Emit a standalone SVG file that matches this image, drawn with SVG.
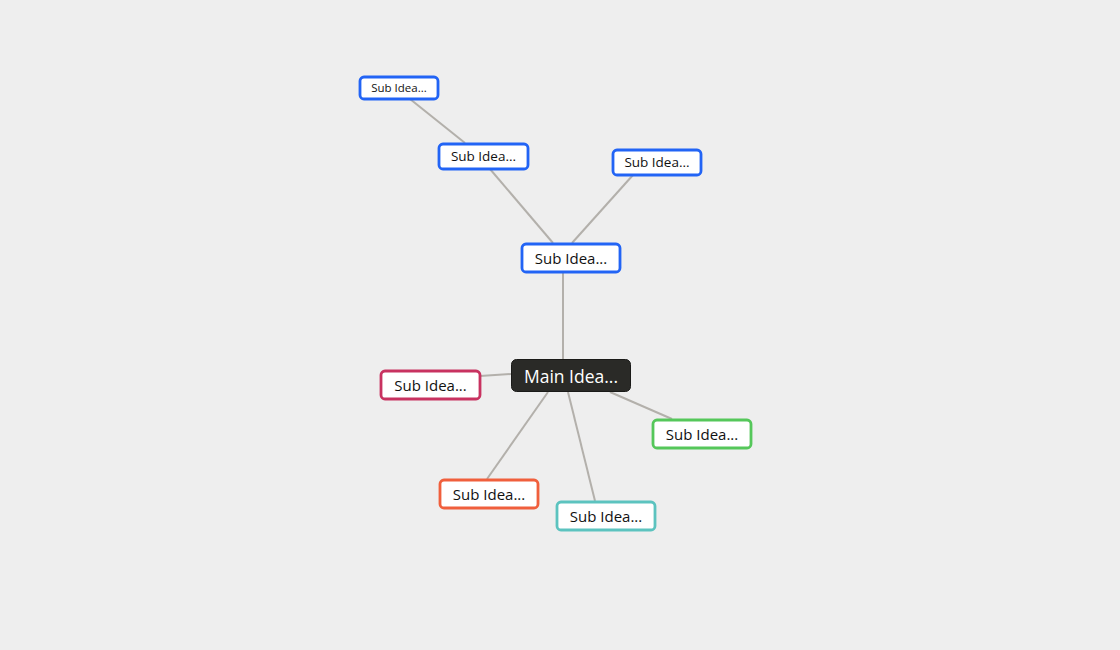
<svg xmlns="http://www.w3.org/2000/svg" width="1120" height="650" viewBox="0 0 1120 650">
<style>
.n rect{fill:#fff;stroke-width:2.8}
.b rect{stroke:#2264f5}
.t{font-family:"Open Sans","Noto Sans",sans-serif;fill:#111;text-anchor:middle;dominant-baseline:central}
.c line{stroke:#b3b0ab;stroke-width:2}
</style>
<rect width="1120" height="650" fill="#eeeeee"/>
<g class="c">
<line x1="410" y1="99" x2="465" y2="143"/>
<line x1="490" y1="169" x2="553" y2="243"/>
<line x1="633" y1="175" x2="572" y2="243"/>
<line x1="563" y1="272" x2="563" y2="359"/>
<line x1="511" y1="374" x2="480" y2="376"/>
<line x1="610" y1="392" x2="672" y2="419"/>
<line x1="548" y1="392" x2="487" y2="479"/>
<line x1="568" y1="392" x2="595" y2="501"/>
</g>
<g id="n1" class="n b"><rect x="360" y="77" width="78" height="22" rx="4"/><text class="t" x="399" y="87.5" font-size="11.5">Sub Idea...</text></g>
<g id="n2" class="n b"><rect x="439" y="144" width="89" height="25" rx="4"/><text class="t" x="483.5" y="156" font-size="13.5">Sub Idea...</text></g>
<g id="n3" class="n b"><rect x="613" y="150" width="88" height="25" rx="4"/><text class="t" x="657" y="162" font-size="13.5">Sub Idea...</text></g>
<g id="n4" class="n b"><rect x="522" y="244" width="98" height="28" rx="4"/><text class="t" x="571" y="258" font-size="15">Sub Idea...</text></g>
<g id="main"><rect x="511.5" y="359.5" width="119" height="32" rx="5" fill="#2a2a27" stroke="#1a1a18" stroke-width="1"/><text class="t" x="571" y="375.5" font-size="17.5" style="fill:#fff">Main Idea...</text></g>
<g id="n5" class="n"><rect x="381" y="371" width="99" height="28" rx="4" stroke="#c83260"/><text class="t" x="430.5" y="385" font-size="15">Sub Idea...</text></g>
<g id="n6" class="n"><rect x="653" y="420" width="98" height="28" rx="4" stroke="#55c75a"/><text class="t" x="702" y="434" font-size="15">Sub Idea...</text></g>
<g id="n7" class="n"><rect x="440" y="480" width="98" height="28" rx="4" stroke="#f05f3c"/><text class="t" x="489" y="494" font-size="15">Sub Idea...</text></g>
<g id="n8" class="n"><rect x="557" y="502" width="98" height="28" rx="4" stroke="#5cc3bf"/><text class="t" x="606" y="516" font-size="15">Sub Idea...</text></g>
</svg>
